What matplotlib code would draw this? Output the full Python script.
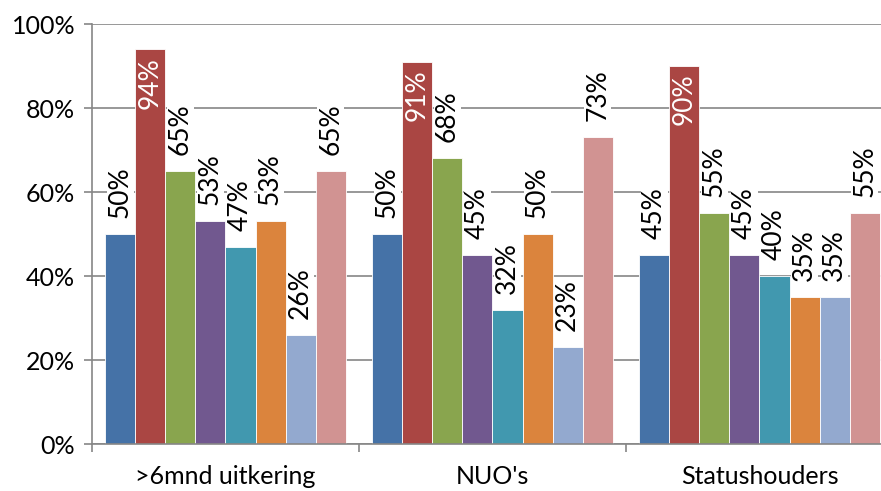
import numpy as np
import matplotlib.pyplot as plt

# Datos
categorias = [">6mnd uitkering", "NUO's", "Statushouders"]
serie_1 = [0.50, 0.50, 0.45]
serie_2 = [0.94, 0.91, 0.90]
serie_3 = [0.65, 0.68, 0.55]
serie_4 = [0.53, 0.45, 0.45]
serie_5 = [0.47, 0.32, 0.40]
serie_6 = [0.53, 0.50, 0.35]
serie_7 = [0.26, 0.23, 0.35]
serie_8 = [0.65, 0.73, 0.55]

series = [serie_1, serie_2, serie_3, serie_4, serie_5, serie_6, serie_7, serie_8]
colores = ["#4572A7", "#AA4643", "#89A54E", "#71588F",
           "#4198AF", "#DB843D", "#93A9CF", "#D19392"]

plt.rcParams["font.family"] = ["Lato", "DejaVu Sans"]

fig = plt.figure(figsize=(8.81, 4.91), dpi=100)
ax = fig.add_axes([92 / 881, 1 - 444 / 491, 801 / 881, 420 / 491])

gris = "#868686"
ancho = 0.9 / 8
x = np.arange(len(categorias))

for i, (valores, color) in enumerate(zip(series, colores)):
    pos = x - 0.45 + ancho * (i + 0.5)
    ax.bar(pos, valores, width=ancho, color=color, edgecolor="white",
           linewidth=0.6, zorder=2)
    for xp, v in zip(pos, valores):
        etiqueta = f"{round(v * 100)}%"
        if v >= 0.85:
            # no cabe encima: dentro de la barra, en blanco
            ax.text(xp, v - 0.018, etiqueta, rotation=90, ha="center",
                    va="top", fontsize=19, color="white", zorder=3)
        else:
            ax.text(xp, v + 0.038, etiqueta, rotation=90, ha="center",
                    va="bottom", fontsize=19, color="black", zorder=3,
                    bbox=dict(facecolor="white", edgecolor="none", pad=1))

ax.set_xlim(-0.5, 2.5)
ax.set_ylim(0, 1)
ax.set_yticks(np.arange(0, 1.01, 0.2))
ax.set_yticklabels([f"{int(round(t * 100))}%" for t in np.arange(0, 1.01, 0.2)])
ax.yaxis.grid(True, color=gris, linewidth=1.2, zorder=0)
ax.set_axisbelow(True)

ax.set_xticks([-0.5, 0.5, 1.5, 2.5])
ax.set_xticklabels([])
ax.set_xticks(x, minor=True)
ax.set_xticklabels(categorias, minor=True)
ax.tick_params(axis="x", which="major", length=6, color=gris, width=1.2)
ax.tick_params(axis="x", which="minor", length=0, labelsize=18, pad=15)
ax.tick_params(axis="y", length=6, color=gris, width=1.2, labelsize=18, pad=6)

for lado in ["top", "right"]:
    ax.spines[lado].set_visible(False)
for lado in ["left", "bottom"]:
    ax.spines[lado].set_color(gris)
    ax.spines[lado].set_linewidth(1.2)

plt.savefig("out.png", dpi=100)
